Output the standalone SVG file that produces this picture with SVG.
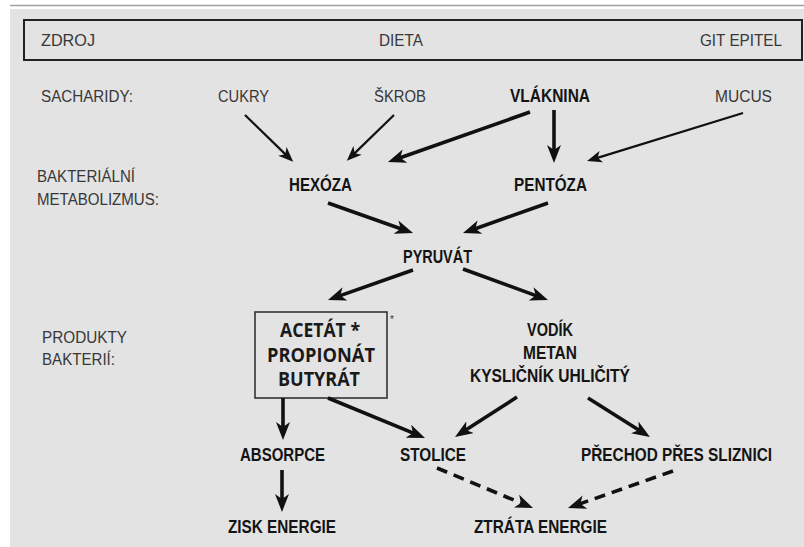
<svg xmlns="http://www.w3.org/2000/svg" width="804" height="547" viewBox="0 0 804 547">
<style>
.reg{font-family:"Liberation Sans",Arial,sans-serif;font-size:16px;fill:#383838}
.bold{font-family:"Liberation Sans",Arial,sans-serif;font-size:18px;font-weight:bold;fill:#141414}
.box{font-family:"Open Sans","Noto Sans",sans-serif;font-size:19px;font-weight:bold;fill:#1a1a1a}
.thick{stroke:#111;stroke-width:3.6;fill:none;marker-end:url(#hd)}
.thin{stroke:#111;stroke-width:2.2;fill:none;marker-end:url(#hs)}
.dash{stroke:#111;stroke-width:3.6;fill:none;stroke-dasharray:11 7;marker-end:url(#hd)}
</style>
<defs>
<marker id="hd" markerUnits="userSpaceOnUse" markerWidth="18" markerHeight="14" refX="8" refY="7" orient="auto">
<path d="M0,0 L18,7 L0,14 L5,7 z" fill="#111"/>
</marker>
<marker id="hs" markerUnits="userSpaceOnUse" markerWidth="15" markerHeight="12" refX="5" refY="6" orient="auto">
<path d="M0,0 L15,6 L0,12 L4,6 z" fill="#111"/>
</marker>
</defs>
<rect x="0" y="0" width="804" height="547" fill="#ffffff"/>
<rect x="10" y="9" width="794" height="538" fill="#e3e3e3"/>
<line x1="10" y1="5.5" x2="804" y2="5.5" stroke="#a0a0a0" stroke-width="1.5"/>

<g id="header">
<rect x="24" y="20" width="778" height="40" fill="#e3e3e3" stroke="#222" stroke-width="2"/>
<text class="reg" x="41" y="46" textLength="54" lengthAdjust="spacingAndGlyphs">ZDROJ</text>
<text class="reg" x="379" y="46" textLength="44" lengthAdjust="spacingAndGlyphs">DIETA</text>
<text class="reg" x="700" y="46" textLength="82" lengthAdjust="spacingAndGlyphs">GIT EPITEL</text>
</g>

<g id="row-labels">
<text class="reg" x="41" y="102" textLength="92" lengthAdjust="spacingAndGlyphs">SACHARIDY:</text>
<text class="reg" x="37" y="182" textLength="98" lengthAdjust="spacingAndGlyphs">BAKTERIÁLNÍ</text>
<text class="reg" x="37" y="205" textLength="122" lengthAdjust="spacingAndGlyphs">METABOLIZMUS:</text>
<text class="reg" x="42" y="343" textLength="85" lengthAdjust="spacingAndGlyphs">PRODUKTY</text>
<text class="reg" x="42" y="365" textLength="73" lengthAdjust="spacingAndGlyphs">BAKTERIÍ:</text>
</g>

<g id="cukry"><text class="reg" x="218" y="102" textLength="51" lengthAdjust="spacingAndGlyphs">CUKRY</text></g>
<g id="skrob"><text class="reg" x="374" y="102" textLength="52" lengthAdjust="spacingAndGlyphs">ŠKROB</text></g>
<g id="vlaknina"><text class="bold" x="510" y="102" textLength="80" lengthAdjust="spacingAndGlyphs">VLÁKNINA</text></g>
<g id="mucus"><text class="reg" x="715" y="102" textLength="57" lengthAdjust="spacingAndGlyphs">MUCUS</text></g>

<g id="hexoza"><text class="bold" x="289" y="191" textLength="63" lengthAdjust="spacingAndGlyphs">HEXÓZA</text></g>
<g id="pentoza"><text class="bold" x="514" y="191" textLength="73" lengthAdjust="spacingAndGlyphs">PENTÓZA</text></g>
<g id="pyruvat"><text class="bold" x="403" y="263" textLength="69" lengthAdjust="spacingAndGlyphs">PYRUVÁT</text></g>

<g id="mastne-kyseliny">
<rect x="255" y="312" width="132" height="86" fill="#e3e3e3" stroke="#333" stroke-width="1.6"/>
<text class="box" x="280" y="337" textLength="80" lengthAdjust="spacingAndGlyphs">ACETÁT *</text>
<text class="box" x="267" y="362" textLength="108" lengthAdjust="spacingAndGlyphs">PROPIONÁT</text>
<text class="box" x="278" y="386" textLength="82" lengthAdjust="spacingAndGlyphs">BUTYRÁT</text>
<text x="390" y="323" font-family="Liberation Sans,Arial,sans-serif" font-size="10" fill="#333">*</text>
</g>

<g id="plyny">
<text class="bold" x="527" y="336" textLength="46" lengthAdjust="spacingAndGlyphs">VODÍK</text>
<text class="bold" x="523" y="359" textLength="54" lengthAdjust="spacingAndGlyphs">METAN</text>
<text class="bold" x="470" y="382" textLength="160" lengthAdjust="spacingAndGlyphs">KYSLIČNÍK UHLIČITÝ</text>
</g>

<g id="absorpce"><text class="bold" x="240" y="461" textLength="85" lengthAdjust="spacingAndGlyphs">ABSORPCE</text></g>
<g id="stolice"><text class="bold" x="400" y="461" textLength="66" lengthAdjust="spacingAndGlyphs">STOLICE</text></g>
<g id="prechod"><text class="bold" x="581" y="461" textLength="191" lengthAdjust="spacingAndGlyphs">PŘECHOD PŘES SLIZNICI</text></g>
<g id="zisk"><text class="bold" x="228" y="533" textLength="108" lengthAdjust="spacingAndGlyphs">ZISK ENERGIE</text></g>
<g id="ztrata"><text class="bold" x="474" y="533" textLength="133" lengthAdjust="spacingAndGlyphs">ZTRÁTA ENERGIE</text></g>

<g id="connectors">
<line class="thin" x1="245" y1="115" x2="286" y2="154.9"/>
<line class="thin" x1="394" y1="115" x2="354" y2="153.9"/>
<line class="thin" x1="743" y1="113" x2="596.6" y2="158.1"/>
<line class="thick" x1="530" y1="112" x2="397.4" y2="158.7"/>
<line class="thick" x1="554" y1="110" x2="554" y2="153"/>
<line class="thick" x1="328" y1="203" x2="403.6" y2="229.7"/>
<line class="thick" x1="548" y1="203" x2="472.4" y2="229.7"/>
<line class="thick" x1="413" y1="270" x2="337.4" y2="296.6"/>
<line class="thick" x1="463" y1="269" x2="538.6" y2="296.6"/>
<line class="thick" x1="283" y1="398" x2="283" y2="430"/>
<line class="thick" x1="328" y1="398" x2="415.8" y2="434.2"/>
<line class="thick" x1="517" y1="397" x2="463.4" y2="431.6"/>
<line class="thick" x1="588" y1="398" x2="641.5" y2="431.7"/>
<line class="thick" x1="282" y1="470" x2="282" y2="502"/>
<line class="dash" x1="437" y1="468" x2="523.8" y2="504.2"/>
<line class="dash" x1="673" y1="471" x2="577.4" y2="504.7"/>
</g>
</svg>
